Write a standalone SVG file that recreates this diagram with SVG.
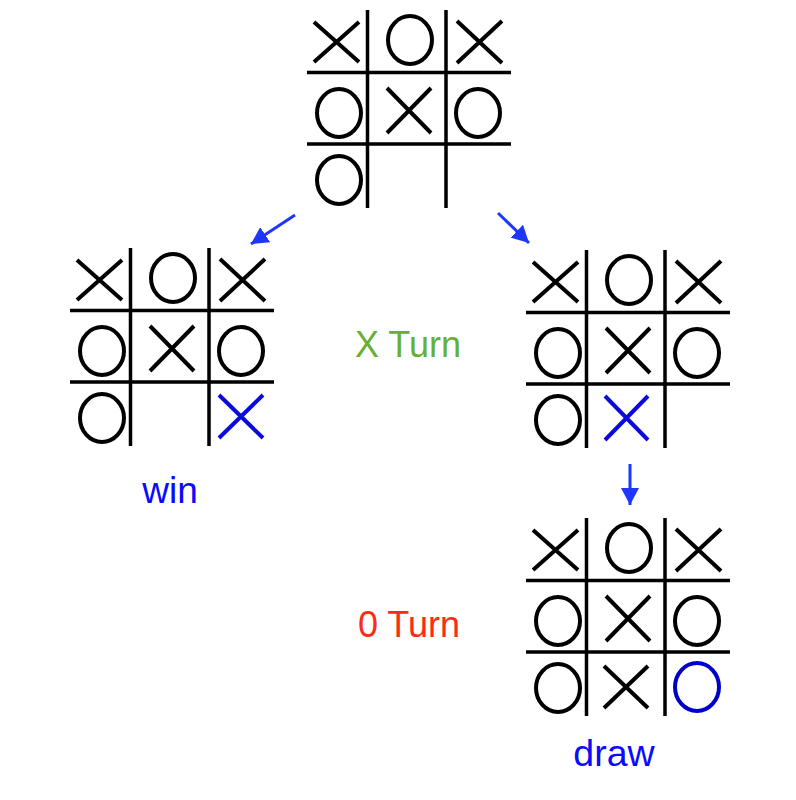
<svg xmlns="http://www.w3.org/2000/svg" xmlns:xlink="http://www.w3.org/1999/xlink" width="796" height="800" viewBox="0 0 796 800">
<style>
.grid{stroke:#000;stroke-width:3.5;fill:none;stroke-linecap:butt}
.mk{stroke:#000;stroke-width:4;fill:none;stroke-linecap:butt}
.bx{stroke:#0a0ae0;stroke-width:4;fill:none;stroke-linecap:butt}
.bo{stroke:#0000c8;stroke-width:4;fill:none}
.arr{stroke:#1f36ff;stroke-width:3;fill:none}
.lbl{font-family:"Liberation Sans",Arial,sans-serif;text-anchor:middle}
</style>
<defs>
<marker id="ah" markerUnits="userSpaceOnUse" markerWidth="20" markerHeight="18" refX="17" refY="9" orient="auto">
<path d="M0,0 L17,9 L0,18 Z" fill="#1f36ff"/>
</marker>
<g id="base">
<path class="grid" d="M367.5,10V208M446,10V208M307,72.5H511M307,144H511"/>
<path class="mk" d="M314,22L359,62M314,62L359,22"/>
<ellipse class="mk" cx="410" cy="40" rx="22" ry="24"/>
<path class="mk" d="M457,21L502,63M457,63L502,21"/>
<ellipse class="mk" cx="339" cy="113" rx="22" ry="24"/>
<path class="mk" d="M387,88L431,133M387,133L431,88"/>
<ellipse class="mk" cx="478" cy="113" rx="22" ry="24"/>
<ellipse class="mk" cx="339" cy="180" rx="22" ry="24"/>
</g>
</defs>
<g id="connectors">
<line class="arr" x1="295" y1="215" x2="251" y2="244" marker-end="url(#ah)"/>
<line class="arr" x1="498" y1="213" x2="529" y2="243" marker-end="url(#ah)"/>
<line class="arr" x1="630" y1="464" x2="630" y2="505" marker-end="url(#ah)"/>
</g>
<g id="board-root">
<use xlink:href="#base"/>
</g>
<g id="board-win" transform="translate(-237,238)">
<use xlink:href="#base"/>
<path class="bx" d="M456,157L500,200M456,200L500,157"/>
</g>
<g id="board-x" transform="translate(219,240)">
<use xlink:href="#base"/>
<path class="bx" d="M386,156L429,200M386,200L429,156"/>
</g>
<g id="board-draw" transform="translate(219,508)">
<use xlink:href="#base"/>
<path class="mk" d="M385,158L429,200M385,200L429,158"/>
<ellipse class="bo" cx="478" cy="179" rx="22" ry="24"/>
</g>
<g id="labels">
<text class="lbl" x="170" y="503" font-size="37" fill="#0a0aff">win</text>
<text class="lbl" x="614" y="766" font-size="37.5" fill="#0a0aff">draw</text>
<text class="lbl" x="408" y="357" font-size="36" fill="#66b032">X Turn</text>
<text class="lbl" x="409" y="637" font-size="36" fill="#ff2a14">0 Turn</text>
</g>
</svg>
